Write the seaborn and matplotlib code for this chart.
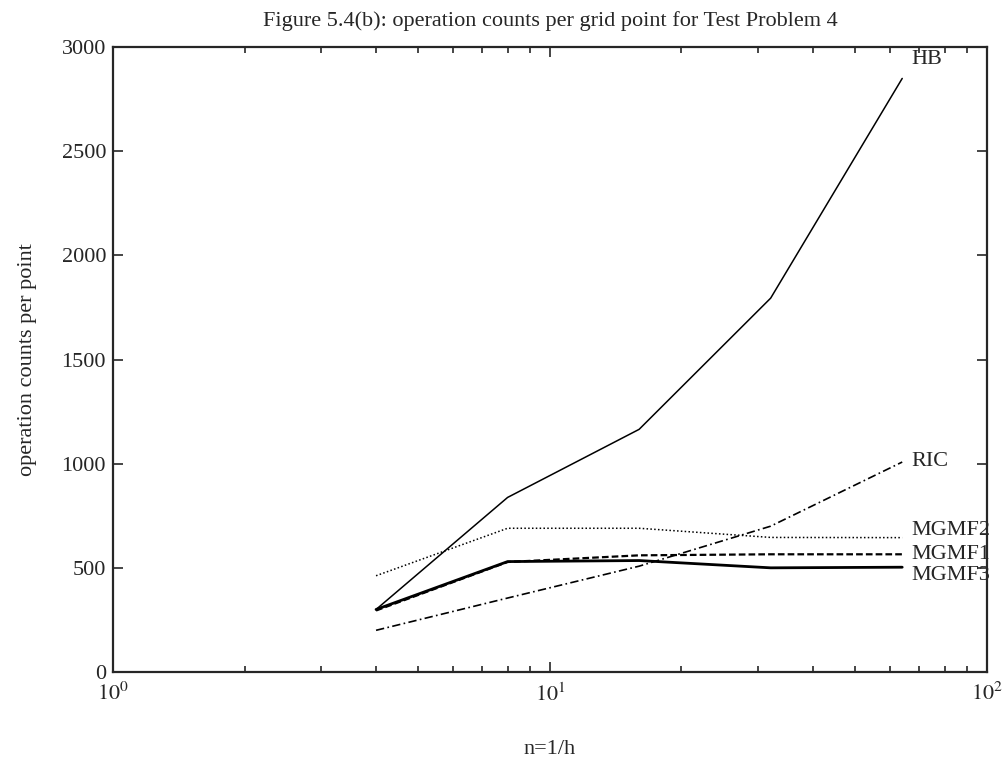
import numpy as np
import pandas as pd
import matplotlib
matplotlib.use('Agg')
import matplotlib.pyplot as plt
import seaborn as sns

# grid sizes n = 1/h
n = [4, 8, 16, 32, 64]

# operation counts per grid point
hb = [300, 838, 1165, 1795, 2850]
ric = [200, 355, 508, 700, 1008]
mgmf2 = [462, 690, 690, 646, 645]
mgmf1 = [295, 528, 560, 565, 565]
mgmf3 = [300, 530, 535, 500, 503]

names = ['HB', 'RIC', 'MGMF2', 'MGMF1', 'MGMF3']
series = [hb, ric, mgmf2, mgmf1, mgmf3]
label_y = [2940, 1010, 679, 565, 465]

df = pd.DataFrame({'n': n * len(names),
                   'count': sum(series, []),
                   'method': np.repeat(names, len(n))})

sns.set_style('ticks')
plt.rcParams['font.family'] = ['Liberation Serif', 'DejaVu Serif']
plt.rcParams['mathtext.fontset'] = 'stix'

styles = {
    'HB': dict(linestyle='-', lw=1.1),
    'RIC': dict(linestyle=(0, (5, 2, 1, 2)), lw=1.2),
    'MGMF2': dict(linestyle=(0, (1, 1.5)), lw=1.1),
    'MGMF1': dict(linestyle=(0, (3, 1.4)), lw=1.6),
    'MGMF3': dict(linestyle='-', lw=2.0),
}

fs = 16

fig = plt.figure(figsize=(10.05, 7.61), dpi=100)
ax = fig.add_axes([0.1124, 0.117, 0.8696, 0.821])

for name in names:
    sub = df[df['method'] == name]
    sns.lineplot(data=sub, x='n', y='count', ax=ax, color='black', **styles[name])

for name, ly in zip(names, label_y):
    ax.text(67, ly, name, fontsize=fs, va='center', ha='left', clip_on=False)

ax.set_xscale('log')
ax.set_xlim(1, 100)
ax.set_ylim(0, 3000)
ax.set_xticks([1, 10, 100])
ax.set_xticklabels([r'$10^{0}$', r'$10^{1}$', r'$10^{2}$'])
ax.set_yticks(np.arange(0, 3001, 500))
ax.tick_params(which='both', direction='in', top=True, right=True, labelsize=fs, width=1.2)
ax.tick_params(which='major', length=7)
ax.tick_params(which='minor', length=4)
ax.tick_params(axis='x', pad=8)
ax.tick_params(axis='y', pad=5)
for s in ax.spines.values():
    s.set_linewidth(1.6)

ax.set_xlabel('n=1/h', fontsize=fs, labelpad=25)
ax.set_ylabel('operation counts per point', fontsize=fs, labelpad=18)
ax.set_title('Figure 5.4(b): operation counts per grid point for Test Problem 4',
             fontsize=fs, pad=15)

fig.savefig('out.png', dpi=100)
